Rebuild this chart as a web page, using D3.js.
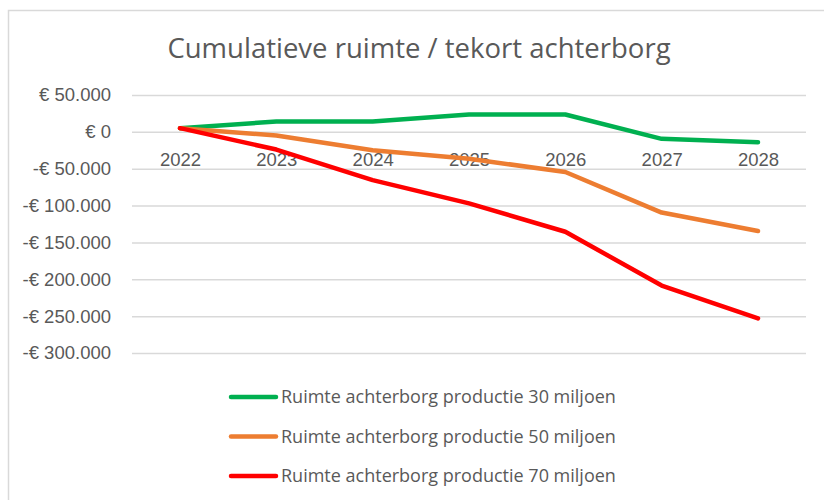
<!DOCTYPE html>
<html lang="nl">
<head>
  <meta charset="UTF-8" />
  <title>Cumulatieve ruimte / tekort achterborg</title>
  <style>
    html, body {
      margin: 0; padding: 0;
      background: #fff;
      overflow: hidden;
    }
    svg {
      display: block;
      font-family: "Open Sans", sans-serif;
    }
    .tick text {
      fill: #595959;
      font-size: 18.5px;
    }
    .legend text {
      fill: #595959;
      font-size: 18px;
    }
    .grid line {
      stroke: #d9d9d9;
      stroke-width: 1.5px;
    }
    .series {
      fill: none;
      stroke-width: 4.5px;
      stroke-linejoin: round;
      stroke-linecap: round;
    }
  </style>
  <script src="https://d3js.org/d3.v7.min.js"></script>
</head>
<body>
  <svg id="chart" width="824" height="500"></svg>

  <script>
    // data
    const years = ["2022", "2023", "2024", "2025", "2026", "2027", "2028"];
    const seriesNames = [
      "Ruimte achterborg productie 30 miljoen",
      "Ruimte achterborg productie 50 miljoen",
      "Ruimte achterborg productie 70 miljoen"
    ];
    const prod30 = [5000, 14000, 14000, 23500, 23500, -9500, -14000];
    const prod50 = [5000, -5000, -25000, -36500, -54500, -109500, -134500];
    const prod70 = [5000, -24000, -65500, -97000, -135500, -208500, -253000];
    const yTicks = [50000, 0, -50000, -100000, -150000, -200000, -250000, -300000];
    const colors = ["#00b050", "#ed7d31", "#ff0000"];

    const svg = d3.select("#chart");

    // chart frame (right and bottom edges fall outside the picture)
    svg.append("rect")
      .attr("x", 8.5).attr("y", 10.5)
      .attr("width", 840).attr("height", 520)
      .attr("fill", "none")
      .attr("stroke", "#d9d9d9")
      .attr("stroke-width", 1.5);

    svg.append("text")
      .attr("x", 419)
      .attr("y", 58)
      .attr("text-anchor", "middle")
      .attr("fill", "#595959")
      .style("font-size", "27.5px")
      .text("Cumulatieve ruimte / tekort achterborg");

    const plotLeft = 132, plotRight = 806;

    const x = d3.scalePoint()
      .domain(years)
      .range([180, 758]);

    const y = d3.scaleLinear()
      .domain([-300000, 50000])
      .range([353, 95]);

    function euro(v) {
      const s = d3.format(",")(Math.abs(v)).replace(/,/g, ".");
      return (v < 0 ? "-€ " : "€ ") + s;
    }

    // gridlines + y labels
    const yAxis = svg.append("g")
      .attr("class", "grid")
      .attr("transform", `translate(${plotLeft},0)`)
      .call(d3.axisLeft(y)
        .tickValues(yTicks)
        .tickFormat(euro)
        .tickSizeInner(-(plotRight - plotLeft))
        .tickSizeOuter(0)
        .tickPadding(21));
    yAxis.select(".domain").remove();

    // year labels, sitting just under the zero line
    const xAxis = svg.append("g")
      .attr("transform", `translate(0,${y(0)})`)
      .call(d3.axisBottom(x).tickSize(0).tickPadding(21));
    xAxis.select(".domain").remove();

    svg.selectAll(".tick text").attr("font-family", null).attr("font-size", null);

    const line = d3.line()
      .x((d, i) => x(years[i]))
      .y(d => y(d));

    const allSeries = [prod30, prod50, prod70];

    svg.append("g")
      .selectAll("path")
      .data(allSeries)
      .join("path")
      .attr("class", "series")
      .attr("stroke", (d, i) => colors[i])
      .attr("d", line);

    // legend
    const legend = svg.append("g")
      .attr("class", "legend")
      .selectAll("g")
      .data(seriesNames)
      .join("g")
      .attr("transform", (d, i) => `translate(230,${397 + i * 39.5})`);

    legend.append("line")
      .attr("x1", 1).attr("x2", 46)
      .attr("stroke", (d, i) => colors[i])
      .attr("stroke-width", 4.5)
      .attr("stroke-linecap", "round");

    legend.append("text")
      .attr("x", 51)
      .attr("dy", "0.35em")
      .text(d => d);
  </script>
</body>
</html>
